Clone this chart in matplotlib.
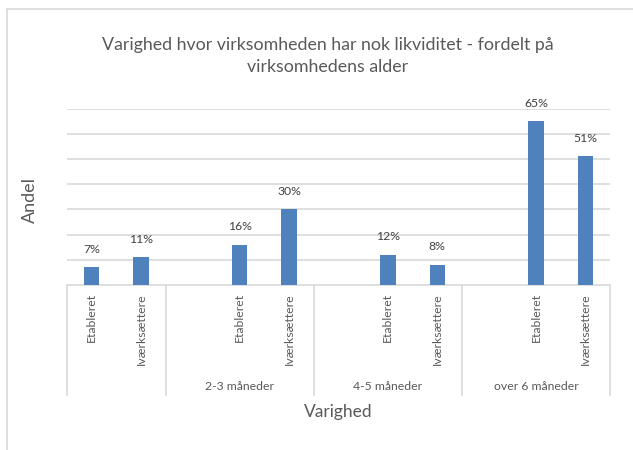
import numpy as np
import matplotlib
matplotlib.use("Agg")
import matplotlib.pyplot as plt
from matplotlib.lines import Line2D

plt.rcParams['font.family'] = ['Lato', 'DejaVu Sans']

# data
groups = ["", "2-3 måneder", "4-5 måneder", "over 6 måneder"]
group_cats = [
    ["Etableret", "Iværksættere"],
    ["", "Etableret", "Iværksættere"],
    ["", "Etableret", "Iværksættere"],
    ["", "Etableret", "Iværksættere"],
]
group_vals = [
    [7, 11],
    [None, 16, 30],
    [None, 12, 8],
    [None, 65, 51],
]

title = "Varighed hvor virksomheden har nok likviditet - fordelt på\nvirksomhedens alder"
bar_color = "#4F81BD"
grid_color = "#D9D9D9"
text_color = "#595959"

# flatten into slots
cats, vals, bounds = [], [], [0]
for c, v in zip(group_cats, group_vals):
    cats += c
    vals += v
    bounds.append(bounds[-1] + len(c))
x = np.arange(len(cats))

W, H = 633, 450
fig = plt.figure(figsize=(W / 100, H / 100), dpi=100)
ax = fig.add_axes([67 / W, (H - 285) / H, (610 - 67) / W, (285 - 108.6) / H])

# chart border (left and top edges visible)
fig.add_artist(Line2D([7 / W, 7 / W], [0, 1 - 9 / H], color=grid_color, lw=1.2))
fig.add_artist(Line2D([7 / W, 1], [1 - 9 / H, 1 - 9 / H], color=grid_color, lw=1.2))

xs = [xi for xi, v in zip(x, vals) if v is not None]
ys = [v for v in vals if v is not None]
ax.bar(xs, ys, width=0.31, color=bar_color, zorder=3)
for xi, v in zip(xs, ys):
    ax.annotate(f"{v}%", (xi, v), xytext=(0, 9), textcoords="offset points",
                ha="center", va="bottom", fontsize=8.8, color="#404040")

ax.set_xlim(-0.5, len(cats) - 0.5)
ax.set_ylim(0, 70)
ax.set_yticks(np.arange(10, 71, 10))
ax.yaxis.grid(True, color=grid_color, lw=1.2, zorder=0)
ax.set_yticklabels([])
ax.tick_params(axis="y", length=0)
ax.set_xticks([])
for s in ["top", "right", "left"]:
    ax.spines[s].set_visible(False)
ax.spines["bottom"].set_color(grid_color)
ax.spines["bottom"].set_linewidth(1.2)

# multi-level category axis
tr = ax.get_xaxis_transform()
ph = 285 - 108.6
for b in bounds:
    ax.plot([b - 0.5, b - 0.5], [0, -110 / ph], transform=tr, color=grid_color,
            lw=1.2, clip_on=False)
for xi, c in zip(x, cats):
    ax.text(xi, -8 / ph, c, transform=tr, rotation=90, ha="center", va="top",
            fontsize=8.8, color=text_color)
for g, b0, b1 in zip(groups, bounds[:-1], bounds[1:]):
    ax.text((b0 + b1 - 1) / 2, -102 / ph, g, transform=tr, ha="center",
            va="center", fontsize=8.8, color=text_color)

ax.text(0.5, -127 / ph, "Varighed", transform=ax.transAxes, ha="center",
        va="center", fontsize=12.5, color=text_color)
fig.text(30 / W, 1 - 200 / H, "Andel", rotation=90, ha="center", va="center",
         fontsize=13, color=text_color)
fig.text(328 / W, 1 - 56 / H, title, ha="center", va="center", fontsize=12.8,
         color=text_color, linespacing=1.45)

fig.savefig("out.png", dpi=100)
